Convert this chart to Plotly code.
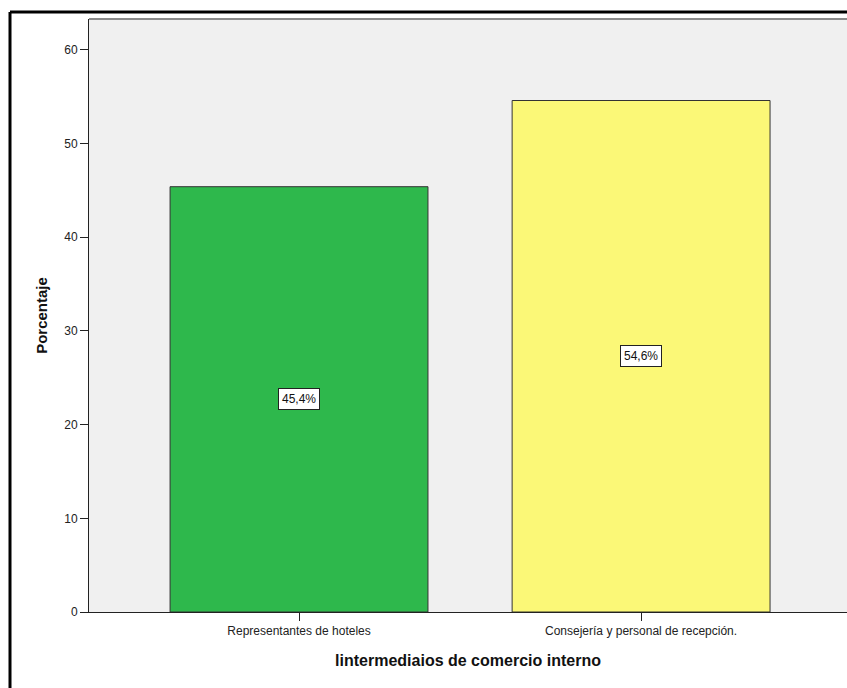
import plotly.graph_objects as go

categories = ["Representantes de hoteles", "Consejería y personal de recepción."]
values = [45.4, 54.6]
labels = ["45,4%", "54,6%"]
colors = ["#2eb84c", "#fbf877"]
y_ticks = [0, 10, 20, 30, 40, 50, 60]

fig = go.Figure()
fig.add_trace(go.Bar(
    x=[0, 1], y=values, width=0.754,
    marker=dict(color=colors, line=dict(color="#333333", width=1)),
    hoverinfo="skip",
))

for i, (v, t) in enumerate(zip(values, labels)):
    fig.add_annotation(x=i, y=v / 2, text=t, showarrow=False,
                       font=dict(family="Liberation Sans, Arial", size=12, color="#111111"),
                       bgcolor="white", bordercolor="#222222", borderwidth=1, borderpad=3)

W, H = 847, 688
L, R, T, B = 89, 0, 19, 76
pw = W - L - R
ph = H - T - B

def px(xpix):
    return (xpix - L) / pw

def py(ypix):
    return (H - B - ypix) / ph

# outer frame (left and top edges visible)
fig.add_shape(type="line", xref="paper", yref="paper", x0=px(10), x1=px(10), y0=py(700), y1=py(12),
              line=dict(color="black", width=3))
fig.add_shape(type="line", xref="paper", yref="paper", x0=px(10), x1=px(860), y0=py(12), y1=py(12),
              line=dict(color="black", width=3))
# plot-area top edge
fig.add_shape(type="line", xref="paper", yref="paper", x0=0, x1=1.02, y0=1, y1=1,
              line=dict(color="#8a8a8a", width=2))

fig.update_layout(
    width=W, height=H,
    margin=dict(l=L, r=R, t=T, b=B),
    paper_bgcolor="white", plot_bgcolor="#f0f0f0",
    showlegend=False,
    font=dict(family="Liberation Sans, Arial", size=12, color="#222222"),
    xaxis=dict(
        range=[-0.614, 1.602], tickmode="array", tickvals=[0, 1], ticktext=categories,
        showgrid=False, zeroline=False, showline=True, linecolor="#222222", linewidth=1,
        ticks="outside", ticklen=8, tickcolor="#222222",
        title=dict(text="<b>lintermediaios de comercio interno</b>", font=dict(size=16, color="#111111"), standoff=17),
        tickfont=dict(size=12),
    ),
    yaxis=dict(
        range=[0, 63.3], tickmode="array", tickvals=y_ticks,
        showgrid=False, zeroline=False, showline=True, linecolor="#222222", linewidth=1,
        ticks="outside", ticklen=8, tickcolor="#222222",
        title=dict(text="<b>Porcentaje</b>", font=dict(size=15, color="#111111"), standoff=12),
        tickfont=dict(size=12),
    ),
)

fig.write_html("out.html")
